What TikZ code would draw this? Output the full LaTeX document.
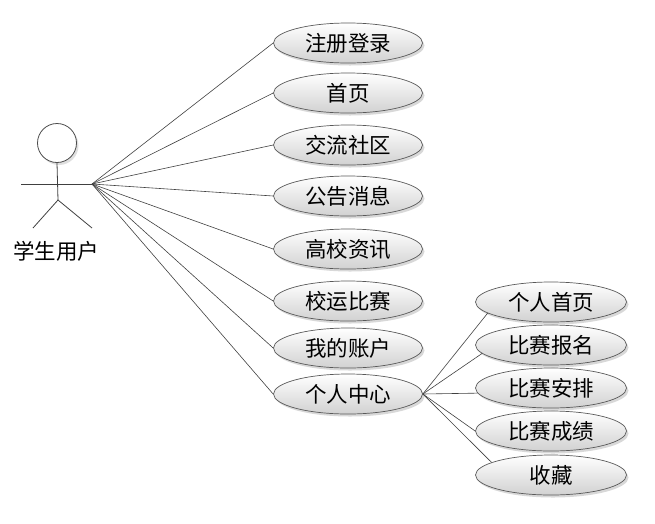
\documentclass[tikz,border=0pt]{standalone}
\usepackage{fontspec}
\newfontfamily\cjk{Noto Sans CJK SC}
\usetikzlibrary{shapes.geometric,shadows}
\begin{document}
\begin{tikzpicture}[x=1pt,y=-1pt,
  uc/.style={ellipse, draw=black!65, line width=0.7pt, minimum width=149pt, minimum height=40pt, inner sep=0pt,
    top color=white, bottom color=black!18,
    drop shadow={shadow xshift=2pt, shadow yshift=-2.5pt, fill=black!30, opacity=0.5},
    font=\cjk\fontsize{21.5}{24}\selectfont},
  ucr/.style={uc, minimum width=151pt},
  link/.style={draw=black!75, line width=0.6pt},
  actorline/.style={draw=black!75, line width=0.8pt}]
\useasboundingbox (0,0) rectangle (655,523);

% use cases, left column
\node[uc] (a1) at (348,43)  {注册登录};
\node[uc] (a2) at (348,93)  {首页};
\node[uc] (a3) at (348,145) {交流社区};
\node[uc] (a4) at (348,196) {公告消息};
\node[uc] (a5) at (348,249) {高校资讯};
\node[uc] (a6) at (348,301) {校运比赛};
\node[uc] (a7) at (348,348) {我的账户};
\node[uc] (a8) at (348,394) {个人中心};

% use cases, right column
\node[ucr] (b1) at (551,302) {个人首页};
\node[ucr] (b2) at (551,345) {比赛报名};
\node[ucr] (b3) at (551,388) {比赛安排};
\node[ucr] (b4) at (551,431) {比赛成绩};
\node[ucr] (b5) at (551,475) {收藏};

% actor
\node[circle, draw=black!70, line width=0.8pt, fill=white, minimum size=39pt, inner sep=0pt,
  drop shadow={shadow xshift=2pt, shadow yshift=-2.5pt, fill=black!25, opacity=0.5}] (head) at (57,143) {};
\coordinate (hip) at (58,200);
\coordinate (handL) at (21,184);
\coordinate (hub) at (92,184);
\coordinate (footL) at (33,228);
\coordinate (footR) at (92,228);
\draw[actorline] (head.south) -- (hip);
\draw[actorline] (handL) -- (hub);
\draw[actorline] (footL) -- (hip) -- (footR);
\node[font=\cjk\fontsize{21.5}{24}\selectfont] (lbl) at (56,251) {学生用户};

% links from actor
\foreach \n in {a1,a2,a3,a4,a5,a6,a7,a8}
  \draw[link] (hub) -- (\n.west);

% links from 个人中心
\draw[link] (a8.east) -- (b1.190);
\draw[link] (a8.east) -- (b2.187);
\draw[link] (a8.east) -- (b3.184);
\draw[link] (a8.east) -- (b4.180);
\draw[link] (a8.east) -- (b5.168);
\end{tikzpicture}
\end{document}
